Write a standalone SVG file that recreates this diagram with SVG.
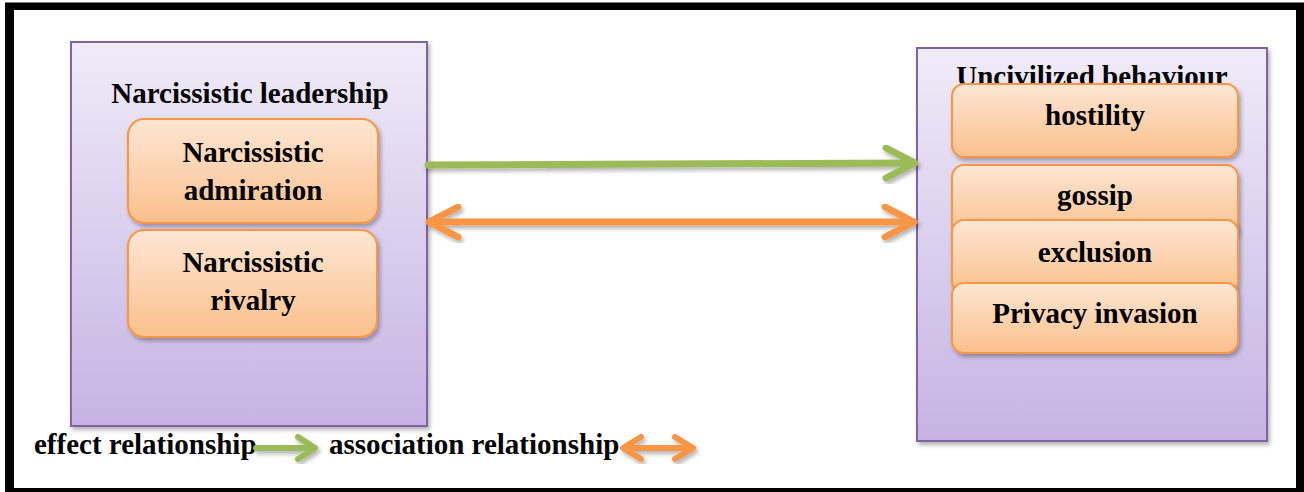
<svg xmlns="http://www.w3.org/2000/svg" width="1304" height="492" viewBox="0 0 1304 492">
  <defs>
    <linearGradient id="gPurple" x1="0" y1="0" x2="0" y2="1">
      <stop offset="0" stop-color="#f0ebf8"/>
      <stop offset="1" stop-color="#c6b3e4"/>
    </linearGradient>
    <linearGradient id="gOrange" x1="0" y1="0" x2="0" y2="1">
      <stop offset="0" stop-color="#fde6d4"/>
      <stop offset="1" stop-color="#fbc08c"/>
    </linearGradient>
    <filter id="shadow" x="-10%" y="-10%" width="125%" height="130%">
      <feDropShadow dx="2" dy="3" stdDeviation="2" flood-color="#000" flood-opacity="0.3"/>
    </filter>
    <style>
      .container { fill: url(#gPurple); stroke: #8064a2; stroke-width: 2; filter: url(#shadow); }
      .box { fill: url(#gOrange); stroke: #f79646; stroke-width: 2; filter: url(#shadow); }
      .t { font-family: "Liberation Serif", "Times New Roman", serif; font-weight: bold; font-size: 29px; fill: #000; }
      .c { text-anchor: middle; }
      .green { stroke: #9bbb59; fill: none; stroke-linecap: round; stroke-linejoin: round; }
      .orange { stroke: #f79646; fill: none; stroke-linecap: round; stroke-linejoin: round; }
      .main { stroke-width: 7; }
      .leg { stroke-width: 6; }
      .sh { filter: url(#shadow); }
    </style>
  </defs>

  <!-- page frame -->
  <rect x="5" y="2.5" width="1299" height="489.5" fill="#000"/>
  <rect x="14" y="10" width="1282" height="478" fill="#fff"/>

  <g id="narcissistic-leadership">
    <rect class="container" x="71" y="42" width="356" height="384"/>
    <text class="t c" x="250" y="103">Narcissistic leadership</text>
  </g>
  <g id="narcissistic-admiration">
    <rect class="box" x="128" y="119" width="250" height="104" rx="16"/>
    <text class="t c" x="253" y="162">Narcissistic</text>
    <text class="t c" x="253" y="200">admiration</text>
  </g>
  <g id="narcissistic-rivalry">
    <rect class="box" x="128" y="230" width="249" height="107" rx="16"/>
    <text class="t c" x="253" y="272">Narcissistic</text>
    <text class="t c" x="253" y="310">rivalry</text>
  </g>

  <g id="uncivilized-behaviour">
    <rect class="container" x="917" y="48" width="350" height="393"/>
    <text class="t c" x="1092" y="86">Uncivilized behaviour</text>
  </g>
  <g id="hostility">
    <rect class="box" x="952" y="84" width="286" height="73" rx="12"/>
    <text class="t c" x="1095" y="125">hostility</text>
  </g>
  <g id="gossip">
    <rect class="box" x="952" y="165" width="286" height="73" rx="12"/>
    <text class="t c" x="1095" y="205">gossip</text>
  </g>
  <g id="exclusion">
    <rect class="box" x="952" y="220" width="286" height="73" rx="12"/>
    <text class="t c" x="1095" y="262">exclusion</text>
  </g>
  <g id="privacy-invasion">
    <rect class="box" x="952" y="283" width="286" height="70" rx="12"/>
    <text class="t c" x="1095" y="323">Privacy invasion</text>
  </g>

  <g id="connectors">
    <g class="sh">
      <path class="green main" d="M428 165 L912 163"/>
      <path class="green main" d="M886 148 L915 163 L886 178"/>
    </g>
    <g class="sh">
      <path class="orange main" d="M430 222 L913 222"/>
      <path class="orange main" d="M458 207 L429 222 L458 237"/>
      <path class="orange main" d="M885 207 L914 222 L885 237"/>
    </g>
  </g>

  <g id="legend">
    <text class="t" x="34" y="454">effect relationship</text>
    <g class="sh">
      <path class="green leg" d="M256 448 L313 448"/>
      <path class="green leg" d="M298 437 L315 448 L298 459"/>
    </g>
    <text class="t" x="329" y="454">association relationship</text>
    <g class="sh">
      <path class="orange leg" d="M625 448 L691 448"/>
      <path class="orange leg" d="M641 437 L623 448 L641 459"/>
      <path class="orange leg" d="M675 437 L693 448 L675 459"/>
    </g>
  </g>
</svg>
